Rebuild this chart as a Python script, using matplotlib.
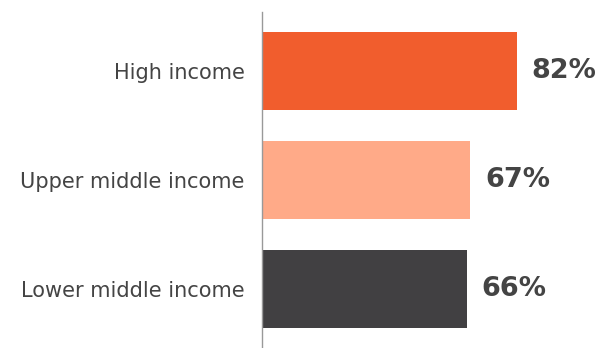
import matplotlib
matplotlib.use("Agg")
import matplotlib.pyplot as plt

categories = ["High income", "Upper middle income", "Lower middle income"]
values = [82, 67, 66]
colors = ["#F15D2D", "#FFAA88", "#414042"]
value_labels = ["82%", "67%", "66%"]

fig = plt.figure(figsize=(6.0, 3.48), dpi=100)
W, H = 600, 348
ax = fig.add_axes([262 / W, 0, (W - 262) / W, (348 - 12) / H])

ypos = list(range(len(categories)))
ax.barh(ypos, values, height=0.716, color=colors, zorder=2)
ax.set_xlim(0, (W - 262) / 3.11)
ax.set_ylim(2.537, -0.54)

for s in ["top", "right", "bottom"]:
    ax.spines[s].set_visible(False)
ax.spines["left"].set_color("#999999")
ax.spines["left"].set_linewidth(1.0)
ax.set_xticks([])
ax.set_yticks(ypos)
ax.set_yticklabels(categories, fontsize=15, color="#444444", family="DejaVu Sans")
ax.tick_params(axis="y", length=0, pad=12.5)

for y, v, lab in zip(ypos, values, value_labels):
    ax.annotate(lab, xy=(v, y), xytext=(10.5, 0), textcoords="offset points",
                ha="left", va="center", fontsize=19.5, fontweight="bold",
                color="#444444", family="DejaVu Sans")

fig.savefig("out.png", dpi=100)
